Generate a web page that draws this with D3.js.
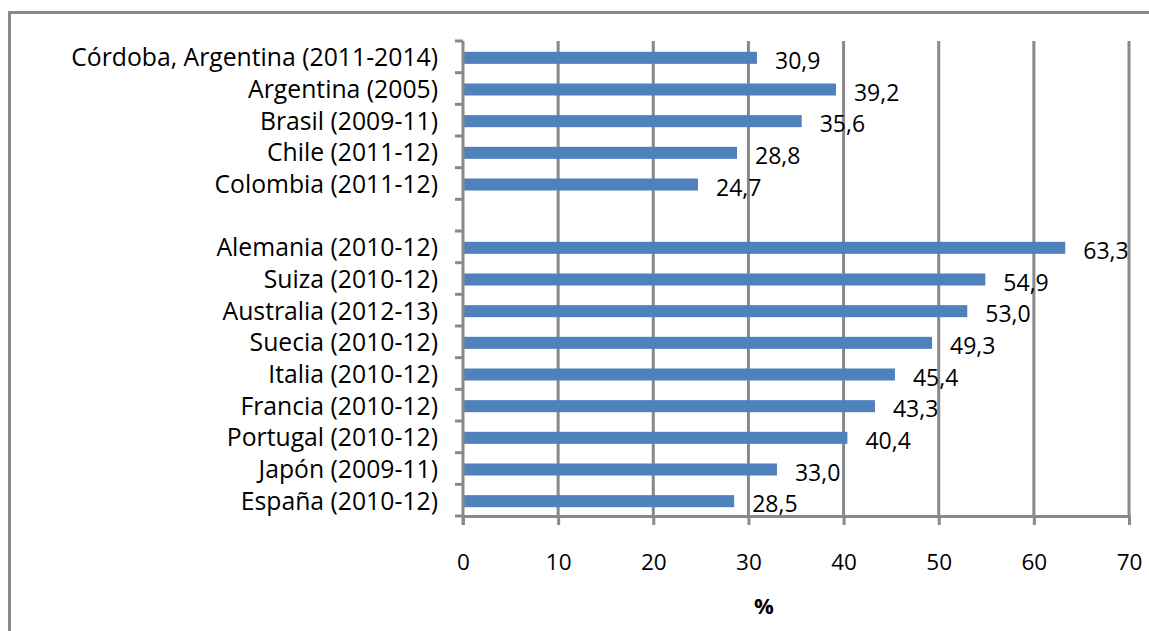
<!DOCTYPE html>
<html><head><meta charset="utf-8">
<script src="https://cdn.jsdelivr.net/npm/d3@7"></script>
<style>body{margin:0;background:#fff;}svg{display:block;}</style>
</head><body>
<svg id="c" width="1149" height="631"></svg>
<script>
const categories = ["Córdoba, Argentina (2011-2014)","Argentina (2005)","Brasil (2009-11)","Chile (2011-12)","Colombia (2011-12)","","Alemania (2010-12)","Suiza (2010-12)","Australia (2012-13)","Suecia (2010-12)","Italia (2010-12)","Francia (2010-12)","Portugal (2010-12)","Japón (2009-11)","España (2010-12)"];
const values = [30.9,39.2,35.6,28.8,24.7,null,63.3,54.9,53.0,49.3,45.4,43.3,40.4,33.0,28.5];
const valueLabels = ["30,9","39,2","35,6","28,8","24,7","","63,3","54,9","53,0","49,3","45,4","43,3","40,4","33,0","28,5"];
const xTicks = [0,10,20,30,40,50,60,70];
const xTitle = "%";

const svg = d3.select("#c");
const font = "'Open Sans', sans-serif";
const grey = "#898989";
const L = 463, R = 1129, T = 41, B = 516;

// frame
svg.append("path").attr("d", `M9.5,640 L9.5,12.5 L1160,12.5`).attr("fill","none").attr("stroke",grey).attr("stroke-width",3);

const x = d3.scaleLinear().domain([0,70]).range([L,R]);
const y = d3.scaleBand().domain(d3.range(categories.length)).range([T,B]).paddingInner(0.62).paddingOuter(0.31);
const slot = d3.scaleLinear().domain([0,categories.length]).range([T,B]);

// gridlines
svg.append("g").selectAll("line").data(xTicks.slice(1)).join("line")
  .attr("x1",d=>x(d)).attr("x2",d=>x(d)).attr("y1",T).attr("y2",B)
  .attr("stroke",grey).attr("stroke-width",3);

// bars
svg.append("g").selectAll("rect").data(values.map((v,i)=>({v,i})).filter(d=>d.v!=null)).join("rect")
  .attr("x",x(0)).attr("y",d=>y(d.i)+1).attr("width",d=>x(d.v)-x(0)).attr("height",y.bandwidth())
  .attr("fill","#4f81bd");

// x axis
const xa = svg.append("g").attr("transform",`translate(0,${B})`)
  .call(d3.axisBottom(x).tickValues(xTicks).tickSize(9).tickPadding(29).tickFormat(d3.format("d")));
xa.select(".domain").attr("stroke",grey).attr("stroke-width",3);
xa.selectAll(".tick line").attr("stroke",grey).attr("stroke-width",3);
xa.selectAll("text").attr("font-family",font).attr("font-size",22.5).attr("fill","#000");

// y axis line and ticks
svg.append("line").attr("x1",L).attr("x2",L).attr("y1",T).attr("y2",B+9).attr("stroke",grey).attr("stroke-width",3);
svg.append("g").selectAll("line").data(d3.range(categories.length+1)).join("line")
  .attr("x1",L-8).attr("x2",L).attr("y1",d=>slot(d)).attr("y2",d=>slot(d))
  .attr("stroke",grey).attr("stroke-width",3);

// category labels
const cat = svg.append("g").selectAll("text").data(categories).join("text")
  .attr("x",438).attr("y",(d,i)=>y(i)+y.bandwidth()/2+1).attr("dy","0.35em")
  .attr("text-anchor","end").attr("font-family",font).attr("font-size",20).attr("fill","#000")
  .text(d=>d);
// fit font size so the longest label spans the reference width
const w0 = cat.nodes()[0].getComputedTextLength();
const fs = Math.min(25, 20 * 367 / w0);
cat.attr("font-size", fs);

// value labels
svg.append("g").selectAll("text").data(values.map((v,i)=>({v,i})).filter(d=>d.v!=null)).join("text")
  .attr("x",d=>x(d.v)+18).attr("y",d=>y(d.i)+y.bandwidth()/2+4).attr("dy","0.35em")
  .attr("font-family",font).attr("font-size",23).attr("fill","#000")
  .text(d=>valueLabels[d.i]);

// axis title
svg.append("text").attr("x",764).attr("y",606).attr("dy","0.35em").attr("text-anchor","middle")
  .attr("font-family",font).attr("font-size",22).attr("font-weight","bold").text(xTitle);
</script>
</body></html>
